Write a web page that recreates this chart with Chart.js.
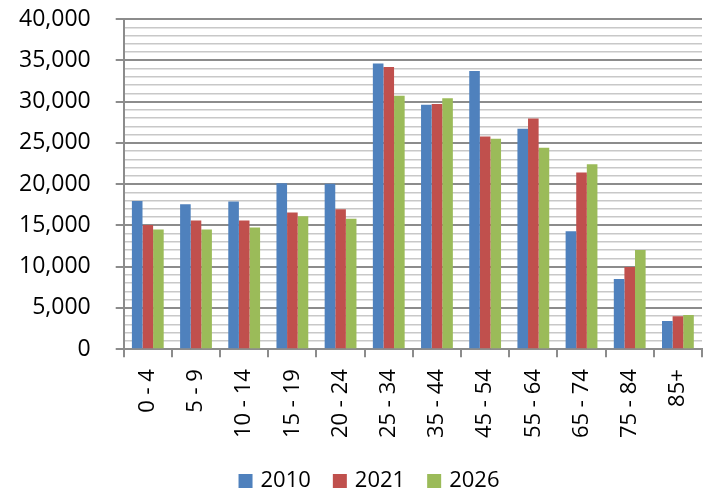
<!DOCTYPE html>
<html>
<head>
<meta charset="utf-8">
<script src="https://cdn.jsdelivr.net/npm/chart.js@4.4.1/dist/chart.umd.min.js"></script>
<style>
  html, body { margin: 0; padding: 0; background: #fff; }
  #wrap { width: 704px; height: 497px; }
</style>
</head>
<body>
<div id="wrap"><canvas id="myChart" width="704" height="497"></canvas></div>
<script>
let ageGroups = ['0 - 4', '5 - 9', '10 - 14', '15 - 19', '20 - 24', '25 - 34', '35 - 44', '45 - 54', '55 - 64', '65 - 74', '75 - 84', '85+'];
let pop2010 = [17950, 17550, 17900, 20100, 20050, 34600, 29600, 33700, 26700, 14300, 8500, 3400];
let pop2021 = [15050, 15600, 15600, 16550, 16950, 34200, 29700, 25750, 27950, 21400, 9950, 4000];
let pop2026 = [14500, 14500, 14750, 16100, 15800, 30700, 30400, 25500, 24400, 22400, 12000, 4150];
let seriesNames = ['2010', '2021', '2026'];

let ctx = document.getElementById('myChart').getContext('2d');
let fontFamily = '"Open Sans", sans-serif';

// legend drawn by hand so it sits where the original has it
let bottomLegend = {
    id: 'bottomLegend',
    afterDraw: (chart) => {
        let c = chart.ctx;
        c.save();
        c.font = '22px ' + fontFamily;
        c.textBaseline = 'middle';
        c.textAlign = 'left';
        let items = chart.data.datasets.map(ds => ({ text: ds.label, color: ds.backgroundColor, w: c.measureText(ds.label).width }));
        let total = items.reduce((s, it) => s + 14 + 8 + it.w, 0) + 22 * (items.length - 1);
        let x = 369 - total / 2;
        let y = 481;
        items.forEach(it => {
            c.fillStyle = it.color;
            c.fillRect(x, y - 7, 14, 14);
            c.fillStyle = '#000';
            c.fillText(it.text, x + 22, y);
            x += 14 + 8 + it.w + 22;
        });
        c.restore();
    }
};

let myChart = new Chart(ctx, {
    type: 'bar',
    data: {
        labels: ageGroups,
        datasets: [
            { label: seriesNames[0], data: pop2010, backgroundColor: '#4F81BD' },
            { label: seriesNames[1], data: pop2021, backgroundColor: '#C0504D' },
            { label: seriesNames[2], data: pop2026, backgroundColor: '#9BBB59' }
        ]
    },
    plugins: [bottomLegend],
    options: {
        responsive: false,
        animation: false,
        layout: { padding: { left: -6, right: 2, top: 0, bottom: 47 } },
        datasets: { bar: { categoryPercentage: 0.66, barPercentage: 1.0 } },
        plugins: {
            tooltip: { enabled: false },
            legend: { display: false }
        },
        scales: {
            x: {
                afterFit: (s) => { s.paddingRight = 0; s.paddingLeft = 0; },
                grid: { drawOnChartArea: false, offset: true, tickLength: 8, color: '#8c8c8c', lineWidth: 2 },
                border: { color: '#8c8c8c', width: 2 },
                ticks: { color: '#000', font: { family: fontFamily, size: 22 }, minRotation: 90, maxRotation: 90, padding: 12 }
            },
            y: {
                min: 0,
                max: 40000,
                afterFit: (s) => { s.paddingTop = 19; s.paddingBottom = 0; },
                grid: {
                    tickLength: 8,
                    color: (c) => c.tick.value % 5000 === 0 ? '#8c8c8c' : '#c8c8c8',
                    lineWidth: (c) => c.tick.value % 5000 === 0 ? 2 : 1.5,
                    tickColor: (c) => c.tick.value % 5000 === 0 ? '#8c8c8c' : 'rgba(0,0,0,0)'
                },
                border: { color: '#8c8c8c', width: 2 },
                ticks: {
                    stepSize: 1000,
                    autoSkip: false,
                    color: '#000',
                    font: { family: fontFamily, size: 23 },
                    padding: 25,
                    callback: (v) => v % 5000 === 0 ? v.toLocaleString('en-US') : ''
                }
            }
        }
    }
});
</script>
</body>
</html>
